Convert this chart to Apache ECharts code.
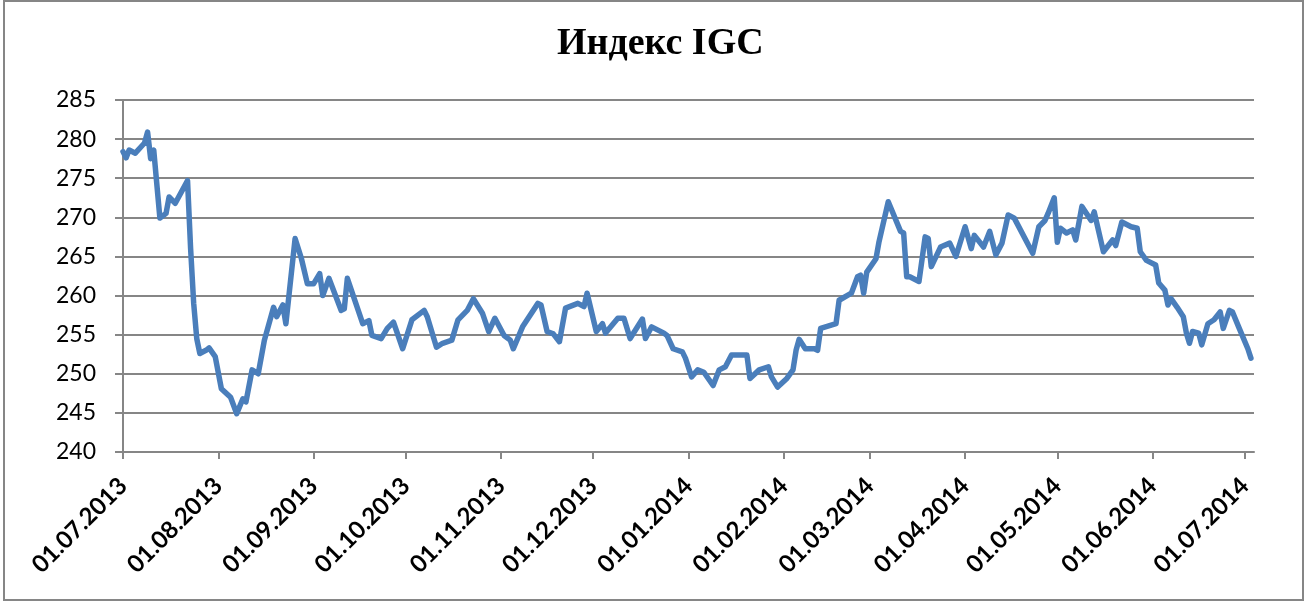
<!DOCTYPE html>
<html>
<head>
<meta charset="utf-8">
<script src="https://cdn.jsdelivr.net/npm/echarts@6/dist/echarts.min.js"></script>
<style>
html,body{margin:0;padding:0;background:#fff;}
#chart{width:1306px;height:603px;}
</style>
</head>
<body>
<div id="chart"></div>
<script>
const titleText = 'Индекс IGC';

const dates = [
'2013-07-01','2013-07-02','2013-07-03','2013-07-05','2013-07-08','2013-07-09','2013-07-10','2013-07-11','2013-07-13','2013-07-15',
'2013-07-16','2013-07-18','2013-07-22','2013-07-23','2013-07-24','2013-07-25','2013-07-26','2013-07-28','2013-07-29','2013-07-31',
'2013-08-02','2013-08-05','2013-08-07','2013-08-09','2013-08-10','2013-08-12','2013-08-14','2013-08-16','2013-08-19','2013-08-20',
'2013-08-22','2013-08-23','2013-08-26','2013-08-28','2013-08-30','2013-09-01','2013-09-03','2013-09-04','2013-09-06','2013-09-10',
'2013-09-11','2013-09-12','2013-09-17','2013-09-19','2013-09-20','2013-09-23','2013-09-25','2013-09-27','2013-09-30','2013-10-03',
'2013-10-07','2013-10-08','2013-10-11','2013-10-13','2013-10-16','2013-10-18','2013-10-21','2013-10-23','2013-10-26','2013-10-28',
'2013-10-30','2013-11-02','2013-11-04','2013-11-05','2013-11-08','2013-11-13','2013-11-14','2013-11-16','2013-11-18','2013-11-20',
'2013-11-22','2013-11-26','2013-11-28','2013-11-29','2013-12-02','2013-12-04','2013-12-05','2013-12-09','2013-12-11','2013-12-13',
'2013-12-17','2013-12-18','2013-12-20','2013-12-24','2013-12-25','2013-12-27','2013-12-30','2013-12-31','2014-01-02','2014-01-04',
'2014-01-06','2014-01-09','2014-01-11','2014-01-13','2014-01-15','2014-01-20','2014-01-21','2014-01-24','2014-01-27','2014-01-28',
'2014-01-30','2014-02-02','2014-02-04','2014-02-05','2014-02-06','2014-02-08','2014-02-11','2014-02-12','2014-02-13','2014-02-18',
'2014-02-19','2014-02-23','2014-02-25','2014-02-26','2014-02-27','2014-02-28','2014-03-03','2014-03-04','2014-03-07','2014-03-11',
'2014-03-12','2014-03-13','2014-03-14','2014-03-17','2014-03-19','2014-03-20','2014-03-21','2014-03-24','2014-03-27','2014-03-29',
'2014-04-01','2014-04-03','2014-04-04','2014-04-07','2014-04-09','2014-04-11','2014-04-13','2014-04-15','2014-04-17','2014-04-23',
'2014-04-25','2014-04-27','2014-04-28','2014-04-30','2014-05-01','2014-05-02','2014-05-04','2014-05-06','2014-05-07','2014-05-09',
'2014-05-12','2014-05-13','2014-05-16','2014-05-19','2014-05-20','2014-05-22','2014-05-25','2014-05-27','2014-05-28','2014-05-30',
'2014-06-02','2014-06-03','2014-06-05','2014-06-06','2014-06-07','2014-06-09','2014-06-11','2014-06-12','2014-06-13','2014-06-14',
'2014-06-16','2014-06-17','2014-06-19','2014-06-21','2014-06-23','2014-06-24','2014-06-26','2014-06-27','2014-06-29','2014-07-02',
'2014-07-03'
];

const values = [
278.4,277.6,278.6,278.2,279.5,280.9,277.5,278.6,269.9,270.5,
272.6,271.8,274.7,266.0,259.0,254.5,252.6,253.0,253.3,252.2,
248.1,247.0,244.9,246.8,246.4,250.5,250.0,254.3,258.5,257.3,
258.8,256.4,267.3,264.8,261.5,261.5,262.8,260.0,262.2,258.1,
258.3,262.2,256.4,256.8,254.9,254.5,255.8,256.6,253.2,256.9,
258.1,257.3,253.4,253.9,254.3,256.9,258.1,259.6,257.7,255.4,
257.1,254.9,254.3,253.2,256.0,259.0,258.8,255.4,255.1,254.1,
258.4,259.0,258.6,260.3,255.4,256.4,255.2,257.1,257.1,254.5,
257.0,254.5,256.0,255.2,254.9,253.2,252.8,252.0,249.6,250.5,
250.2,248.5,250.5,250.9,252.4,252.4,249.4,250.5,250.9,249.6,
248.3,249.4,250.5,253.0,254.4,253.2,253.2,253.0,255.8,256.4,
259.4,260.3,262.4,262.6,260.3,263.0,264.7,266.9,272.0,268.2,
268.0,262.4,262.4,261.8,267.5,267.3,263.7,266.2,266.7,265.0,
268.8,266.0,267.7,266.2,268.2,265.2,266.7,270.3,269.9,265.4,
268.8,269.6,270.5,272.5,266.8,268.6,268.0,268.4,267.1,271.4,
269.6,270.7,265.6,267.1,266.4,269.4,268.8,268.6,265.6,264.5,
263.9,261.6,260.7,258.8,259.6,258.5,257.3,255.2,253.9,255.4,
255.2,253.7,256.4,256.9,257.9,255.8,258.1,257.9,256.0,253.2,
252.0
];

const tickDates = [
'2013-07-01','2013-08-01','2013-09-01','2013-10-01','2013-11-01','2013-12-01',
'2014-01-01','2014-02-01','2014-03-01','2014-04-01','2014-05-01','2014-06-01','2014-07-01'
];

const xMinDate = '2013-07-01';
const xMaxDate = '2014-07-04';
const yMin = 240, yMax = 285, yStep = 5;

function toTs(s) {
  const p = s.split('-').map(Number);
  return Date.UTC(p[0], p[1] - 1, p[2]);
}
function fmt(ts) {
  const d = new Date(ts);
  const dd = String(d.getUTCDate()).padStart(2, '0');
  const mm = String(d.getUTCMonth() + 1).padStart(2, '0');
  return dd + '.' + mm + '.' + d.getUTCFullYear();
}

const seriesData = dates.map((d, i) => [toTs(d), values[i]]);
const tickTs = tickDates.map(toTs);

const chart = echarts.init(document.getElementById('chart'), null, {renderer: 'canvas'});
chart.setOption({
  animation: false,
  backgroundColor: '#ffffff',
  title: {
    text: titleText,
    left: 552,
    top: 20,
    textStyle: {
      fontFamily: '"Liberation Serif", "DejaVu Serif", serif',
      fontWeight: 'bold',
      fontSize: 38,
      color: '#000'
    }
  },
  graphic: [{
    type: 'rect',
    shape: {x: 4, y: 1, width: 1299, height: 599},
    style: {fill: 'none', stroke: '#868686', lineWidth: 2},
    silent: true,
    z: -1
  }],
  grid: {left: 123, right: 52, top: 100, bottom: 151, containLabel: false},
  xAxis: {
    type: 'value',
    min: toTs(xMinDate),
    max: toTs(xMaxDate),
    axisLine: {show: true, lineStyle: {color: '#868686', width: 2}},
    axisTick: {show: true, length: 7, customValues: tickTs, lineStyle: {color: '#868686', width: 2}},
    splitLine: {show: false},
    axisLabel: {
      customValues: tickTs,
      rotate: 45,
      margin: 30,
      fontFamily: 'Lato, "Open Sans", sans-serif',
      fontWeight: 'bold',
      fontSize: 24,
      color: '#000',
      formatter: function (v) { return fmt(v); }
    }
  },
  yAxis: {
    type: 'value',
    min: yMin,
    max: yMax,
    interval: yStep,
    axisLine: {show: true, lineStyle: {color: '#868686', width: 2}},
    axisTick: {show: true, length: 8, lineStyle: {color: '#868686', width: 2}},
    splitLine: {show: true, lineStyle: {color: '#868686', width: 2}},
    axisLabel: {
      margin: 27,
      fontFamily: 'Lato, "Open Sans", sans-serif',
      fontSize: 23,
      color: '#000'
    }
  },
  series: [{
    type: 'line',
    data: seriesData,
    showSymbol: false,
    symbol: 'none',
    lineStyle: {color: '#4A7EBB', width: 5.5, join: 'round', cap: 'round'},
    z: 3
  }]
});
</script>
</body>
</html>
